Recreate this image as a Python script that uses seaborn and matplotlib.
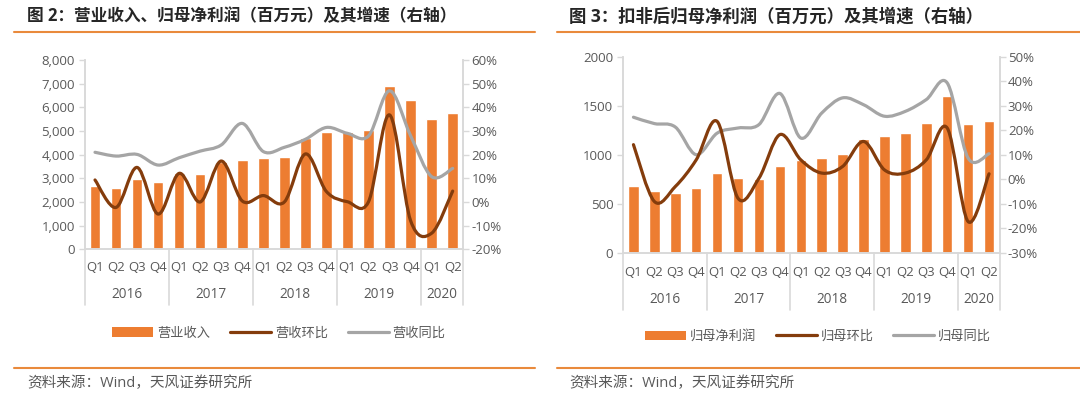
"""
Two quarterly bar + smoothed-line charts (revenue / net profit with growth rates).
"""

import numpy as np
import matplotlib
matplotlib.use("Agg")
import matplotlib.pyplot as plt
from matplotlib.path import Path
from matplotlib.patches import PathPatch, Patch
from matplotlib.lines import Line2D
from matplotlib.ticker import FuncFormatter, MultipleLocator
import seaborn as sns

# ---- data ----
years = ["2016", "2017", "2018", "2019", "2020"]
year_sizes = [4, 4, 4, 4, 2]
quarters = ["Q1", "Q2", "Q3", "Q4"] * 4 + ["Q1", "Q2"]
period_keys = [f"{y}{q}" for y, n in zip(years, year_sizes) for q in ["Q1", "Q2", "Q3", "Q4"][:n]]

revenue = [2680, 2610, 2970, 2830, 3210, 3170, 3700, 3775, 3845,
           3890, 4690, 4960, 4945, 5040, 6900, 6320, 5510, 5775]
revenue_qoq = [9.3, -2.3, 14.6, -5.1, 12.1, 0.0, 17.3, 0.4, 2.7,
               0.0, 20.3, 4.4, 0.1, 0.1, 36.8, -7.9, -13.2, 4.6]
revenue_yoy = [21.0, 19.4, 20.1, 15.6, 18.7, 21.5, 24.1, 33.2, 21.3,
               23.1, 26.5, 31.5, 29.0, 27.9, 47.0, 28.0, 10.7, 14.2]

profit = [683, 628, 611, 662, 812, 761, 754, 887, 949,
          962, 1003, 1160, 1195, 1222, 1328, 1594, 1317, 1348]
profit_qoq = [14.1, -9.1, -3.0, 7.9, 23.6, -7.8, 0.4, 18.2, 7.9,
              2.5, 5.2, 15.4, 3.8, 2.5, 7.9, 20.9, -17.3, 2.2]
profit_yoy = [25.3, 22.7, 21.3, 10.0, 18.8, 20.9, 22.3, 35.0, 16.8,
              27.0, 33.2, 30.4, 25.7, 27.7, 32.5, 39.3, 8.6, 10.4]

ORANGE = "#ED7D31"
BROWN = "#843C0C"
GREY = "#A5A5A5"
TEXT = "#595959"
SPINE = "#D9D9D9"
RULE = "#E98A3C"

sns.set_style("white")
plt.rcParams["font.family"] = ["Open Sans", "Noto Sans CJK SC", "DejaVu Sans"]

W, H = 1080, 395
fig = plt.figure(figsize=(W / 100, H / 100), dpi=100)


def smooth_path(xs, ys):
    """Bezier path through the points (Excel-like smoothed line)."""
    pts = np.column_stack([xs, ys]).astype(float)
    verts, codes = [pts[0]], [Path.MOVETO]
    n = len(pts)
    for i in range(n - 1):
        p0, p1 = pts[max(i - 1, 0)], pts[i]
        p2, p3 = pts[i + 1], pts[min(i + 2, n - 1)]
        verts += [p1 + (p2 - p0) / 6, p2 - (p3 - p1) / 6, p2]
        codes += [Path.CURVE4] * 3
    return Path(verts, codes)


def draw_panel(rect, bars, qoq, yoy, ylim, ystep, y2lim, thousands,
               q_y, year_y, sep_len):
    ax = fig.add_axes(rect)
    sns.barplot(x=period_keys, y=bars, color=ORANGE, width=0.5,
                saturation=1, ax=ax, zorder=2)
    ax.set_xlim(-0.5, len(period_keys) - 0.5)
    ax.set_ylim(*ylim)
    ax.yaxis.set_major_locator(MultipleLocator(ystep))
    if thousands:
        ax.yaxis.set_major_formatter(FuncFormatter(lambda v, p: f"{v:,.0f}"))
    else:
        ax.yaxis.set_major_formatter(FuncFormatter(lambda v, p: f"{v:.0f}"))
    ax.set_xlabel("")
    ax.set_ylabel("")
    ax.set_xticks(range(len(quarters)))
    ax.set_xticklabels([])
    ax.tick_params(axis="x", length=0)
    ax.tick_params(axis="y", length=4, width=1, color=SPINE, pad=3,
                   labelsize=9.5, labelcolor=TEXT)

    ax2 = ax.twinx()
    ax2.set_ylim(*y2lim)
    ax2.yaxis.set_major_locator(MultipleLocator(10))
    ax2.yaxis.set_major_formatter(FuncFormatter(lambda v, p: f"{v:.0f}%"))
    ax2.tick_params(axis="y", length=4, width=1, color=SPINE, pad=2,
                    labelsize=9.5, labelcolor=TEXT)
    xs = np.arange(len(period_keys))
    for vals, col in [(yoy, GREY), (qoq, BROWN)]:
        ax2.add_patch(PathPatch(smooth_path(xs, vals), facecolor="none",
                                edgecolor=col, lw=2.3, capstyle="round",
                                joinstyle="round", zorder=3))

    for a in (ax, ax2):
        a.spines["top"].set_visible(False)
        for s in ("left", "right", "bottom"):
            a.spines[s].set_color(SPINE)
            a.spines[s].set_linewidth(1.2)

    # two level category axis
    trans = ax.get_xaxis_transform()
    for i, q in enumerate(quarters):
        ax.text(i, q_y, q, transform=trans, ha="center", va="center",
                fontsize=9.5, color=TEXT)
    start = 0
    edges = [-0.5]
    for y, n in zip(years, year_sizes):
        ax.text(start + (n - 1) / 2, year_y, y, transform=trans,
                ha="center", va="center", fontsize=9.8, color=TEXT)
        start += n
        edges.append(start - 0.5)
    for e in edges:
        ax.plot([e, e], [0, -sep_len], transform=trans, color=SPINE,
                lw=1.2, clip_on=False)
    return ax


def fig_hline(x0, x1, y):
    fig.add_artist(Line2D([x0 / W, x1 / W], [1 - y / H, 1 - y / H],
                          color=RULE, lw=1.5))


def fig_text(x, y, s, **kw):
    fig.text(x / W, 1 - y / H, s, va="center", ha="left", **kw)


def legend(cx, cy, labels):
    handles = [Patch(facecolor=ORANGE, edgecolor="none"),
               Line2D([], [], color=BROWN, lw=2.3),
               Line2D([], [], color=GREY, lw=2.3)]
    fig.legend(handles, labels, loc="center", ncol=3, frameon=False,
               bbox_to_anchor=(cx / W, 1 - cy / H), fontsize=9.5,
               handlelength=3.1, handletextpad=0.3, columnspacing=1.5,
               labelcolor=TEXT)


# left panel
draw_panel([84.5 / W, 1 - 249.3 / H, (463.2 - 84.5) / W, (249.3 - 60) / H],
           revenue, revenue_qoq, revenue_yoy, (0, 8000), 1000, (-20, 60), True,
           q_y=-0.094, year_y=-0.241, sep_len=0.294)
fig_text(27, 16.5, "图 2：营业收入、归母净利润（百万元）及其增速（右轴）",
         fontsize=12, fontweight="bold", color="#262626")
fig_hline(14, 535, 31.8)
legend(279, 333, ["营业收入", "营收环比", "营收同比"])
fig_hline(14, 535, 367.7)
fig_text(27, 384, "资料来源：Wind，天风证券研究所", fontsize=10.5, color=TEXT)

# right panel
draw_panel([623 / W, 1 - 252.7 / H, (999.5 - 623) / W, (252.7 - 56.7) / H],
           profit, profit_qoq, profit_yoy, (0, 2000), 500, (-30, 50), False,
           q_y=-0.101, year_y=-0.241, sep_len=0.29)
fig_text(569, 16.5, "图 3：扣非后归母净利润（百万元）及其增速（右轴）",
         fontsize=12.5, fontweight="bold", color="#262626")
fig_hline(557, 1080, 31.8)
legend(818, 336.5, ["归母净利润", "归母环比", "归母同比"])
fig_hline(557, 1080, 367.7)
fig_text(569, 384, "资料来源：Wind，天风证券研究所", fontsize=10.5, color=TEXT)

fig.savefig("out.png", dpi=100)
